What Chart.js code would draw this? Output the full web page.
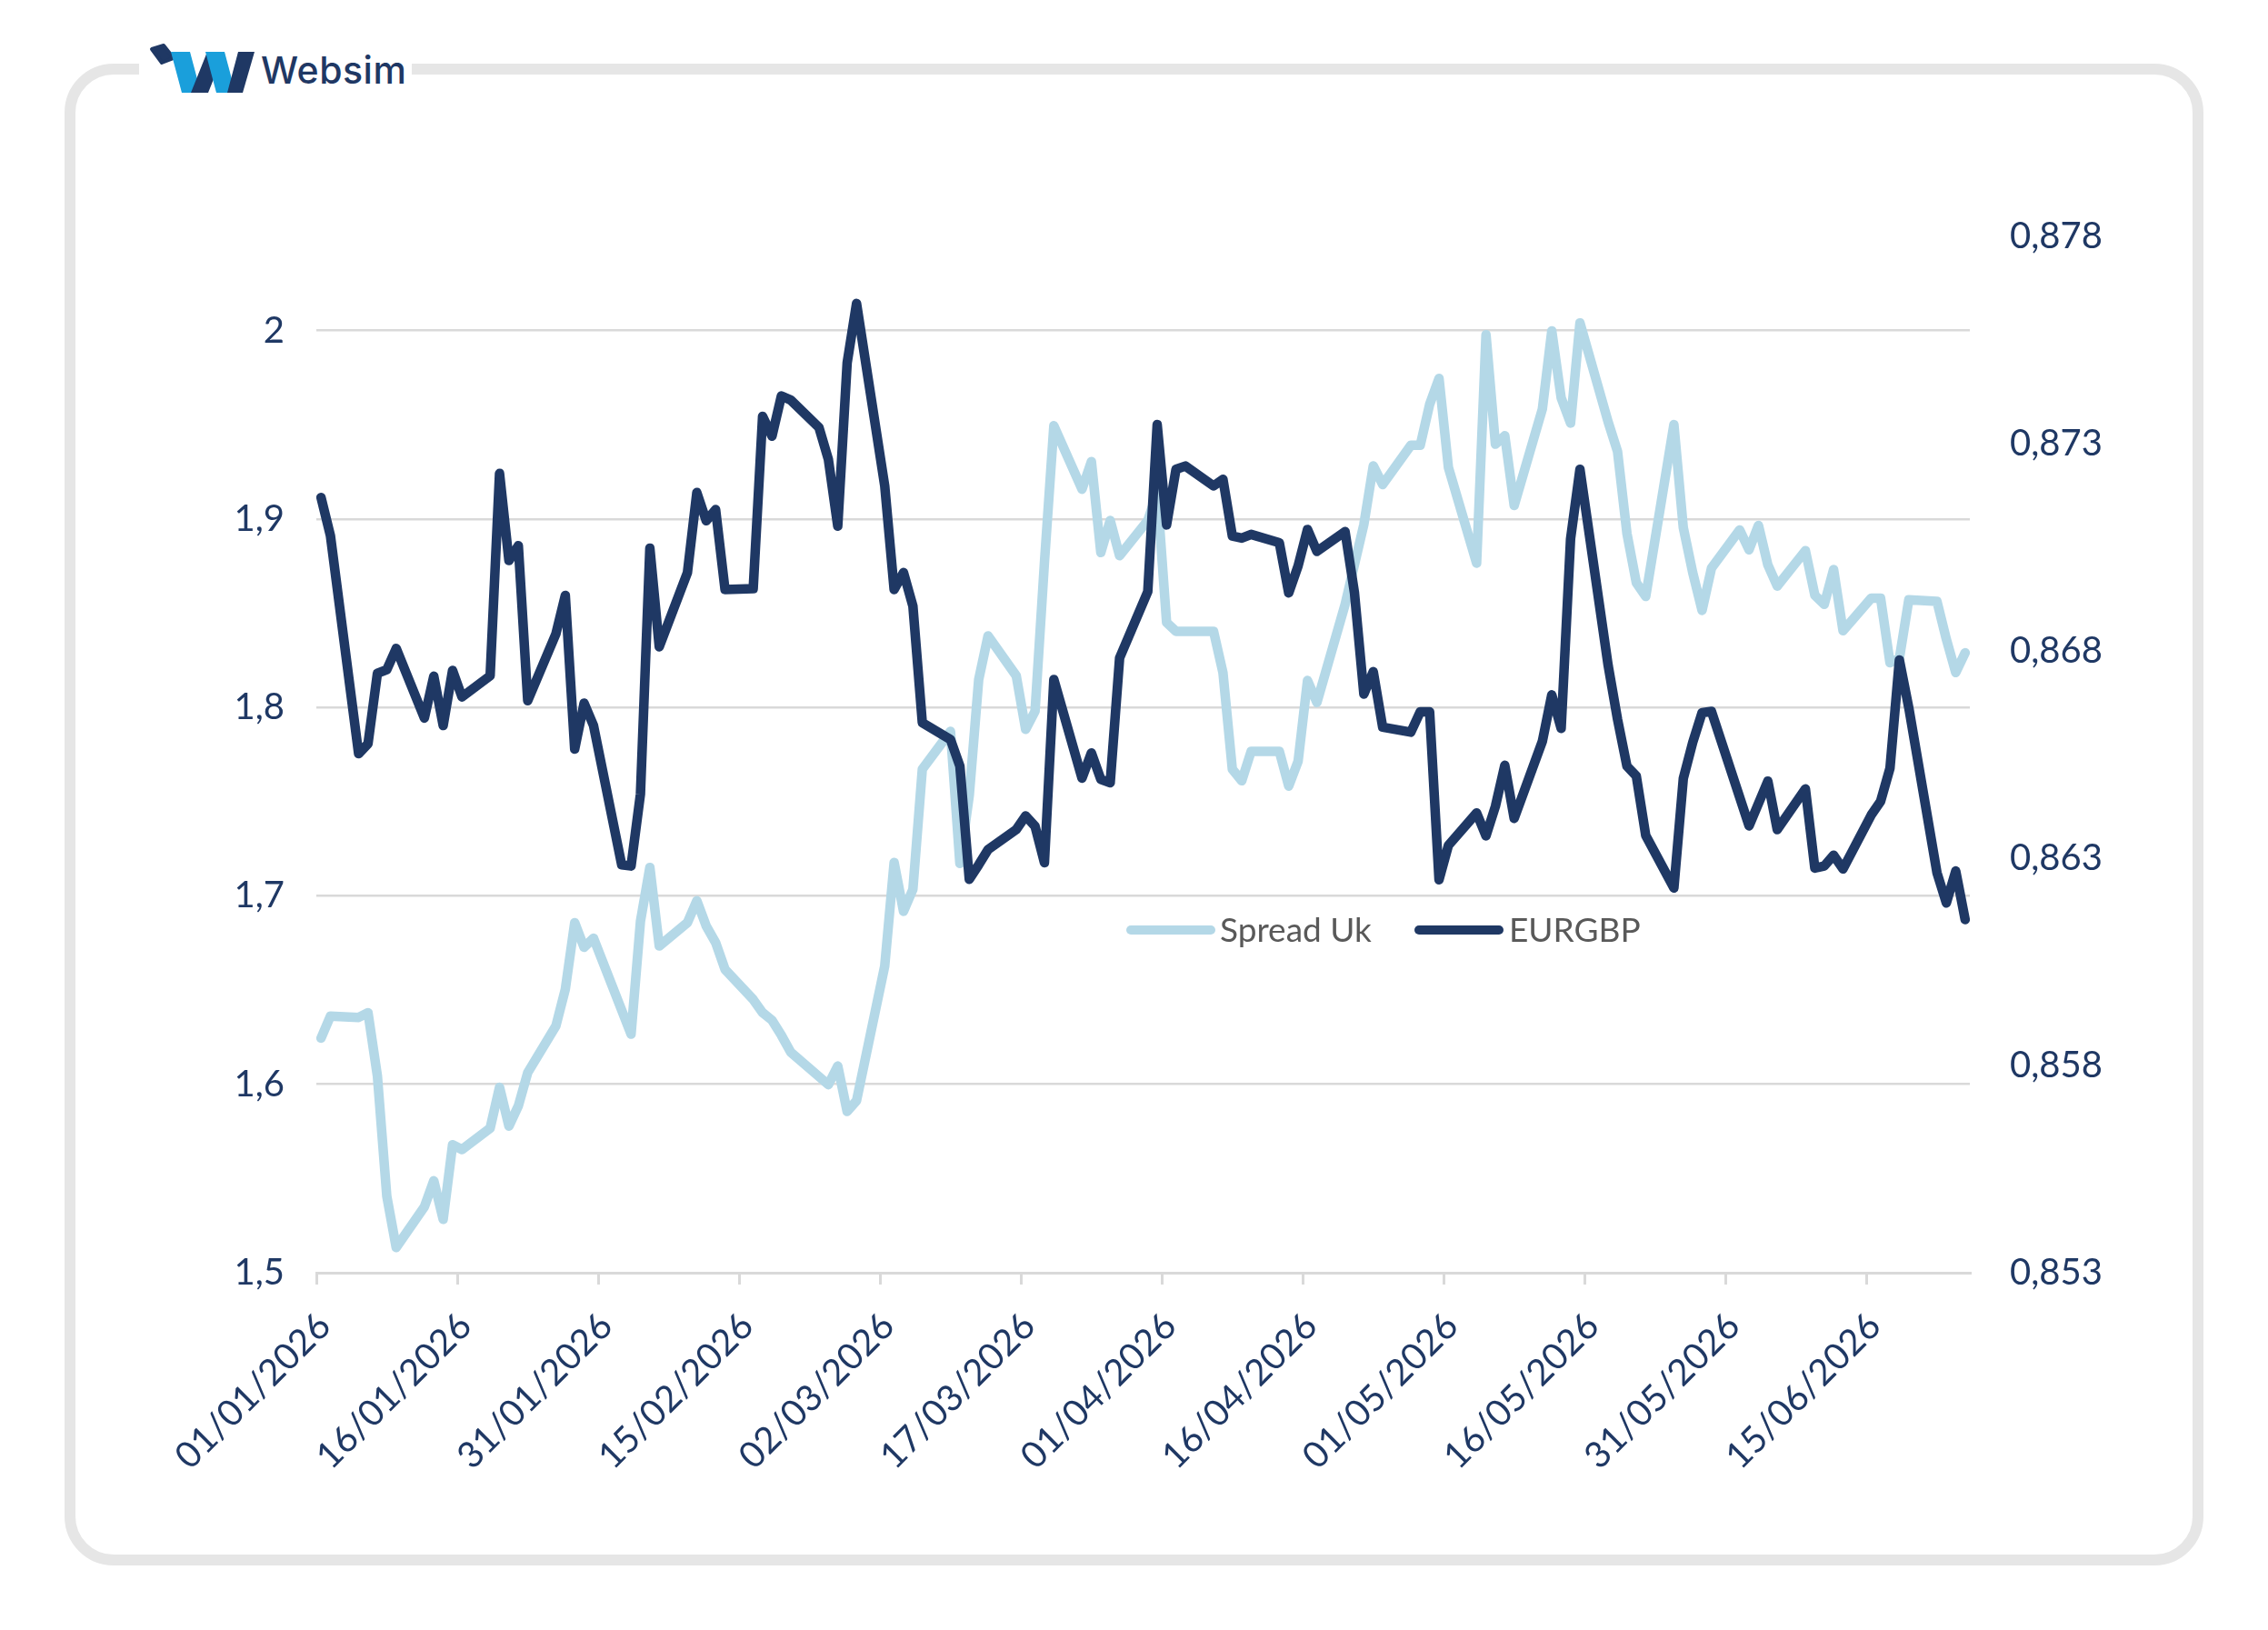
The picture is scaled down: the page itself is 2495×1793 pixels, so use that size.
<!DOCTYPE html>
<html>
<head>
<meta charset="utf-8">
<script src="https://cdn.jsdelivr.net/npm/chart.js@4.4.1/dist/chart.umd.min.js"></script>
<style>
  html, body { margin:0; padding:0; background:#ffffff; }
  body { width:2495px; height:1793px; position:relative; overflow:hidden; }
  #frame { position:absolute; left:0; top:0; }
  #chart { position:absolute; left:0; top:0; }
  .brand { position:absolute; left:287px; top:52px; font-family:Inter, "Noto Sans", sans-serif; font-weight:500; font-size:41px; color:#1F3864; line-height:50px; letter-spacing:0.5px; }
  .lg-line { position:absolute; height:10px; border-radius:5px; top:1018px; width:98px; }
  .lg-text { position:absolute; top:1000px; height:44px; line-height:44px; font-family:Lato, "Open Sans", sans-serif; font-size:37px; color:#595959; white-space:nowrap; }
</style>
</head>
<body>
<svg id="frame" width="2495" height="1793" xmlns="http://www.w3.org/2000/svg">
  <rect x="77" y="76" width="2341" height="1640" rx="48" ry="48" fill="none" stroke="#E6E6E6" stroke-width="12"/>
  <rect x="153" y="58" width="300" height="38" fill="#ffffff"/>
  <polygon points="167,54 180,50 191,64 178,69" fill="#1F3864" stroke="#1F3864" stroke-width="4" stroke-linejoin="round"/>
  <polygon points="188,57 209,57 221,102 200,102" fill="#1A9FDB"/>
  <polygon points="210,102 229,102 247,57 228,57" fill="#1F3864"/>
  <polygon points="226,57 247,57 259,102 238,102" fill="#1A9FDB"/>
  <polygon points="250,102 267,102 280,57 262,57" fill="#1F3864"/>
</svg>
<div class="brand">Websim</div>
<canvas id="chart" width="2495" height="1793"></canvas>
<div class="lg-line" style="left:1239px;background:#B4D8E7;"></div>
<div class="lg-text" style="left:1342px;">Spread Uk</div>
<div class="lg-line" style="left:1556px;background:#1F3864;"></div>
<div class="lg-text" style="left:1660px;">EURGBP</div>
<script>
const seriesNames = ['Spread Uk', 'EURGBP'];

const spreadDates = ['01/01/2026','02/01/2026','05/01/2026','06/01/2026','07/01/2026','08/01/2026','09/01/2026',
'12/01/2026','13/01/2026','14/01/2026','15/01/2026','16/01/2026','19/01/2026','20/01/2026','21/01/2026','22/01/2026','23/01/2026',
'26/01/2026','27/01/2026','28/01/2026','29/01/2026','30/01/2026','03/02/2026','04/02/2026','05/02/2026','06/02/2026',
'09/02/2026','10/02/2026','11/02/2026','12/02/2026','13/02/2026','16/02/2026','17/02/2026','18/02/2026','19/02/2026','20/02/2026',
'24/02/2026','25/02/2026','26/02/2026','27/02/2026','02/03/2026','03/03/2026','04/03/2026','05/03/2026','06/03/2026',
'09/03/2026','10/03/2026','11/03/2026','12/03/2026','13/03/2026','16/03/2026','17/03/2026','18/03/2026','19/03/2026','20/03/2026',
'23/03/2026','24/03/2026','25/03/2026','26/03/2026','27/03/2026','30/03/2026','31/03/2026','01/04/2026','02/04/2026',
'06/04/2026','07/04/2026','08/04/2026','09/04/2026','10/04/2026','13/04/2026','14/04/2026','15/04/2026','16/04/2026','17/04/2026',
'20/04/2026','22/04/2026','23/04/2026','24/04/2026','27/04/2026','28/04/2026','29/04/2026','30/04/2026','01/05/2026',
'04/05/2026','05/05/2026','06/05/2026','07/05/2026','08/05/2026','11/05/2026','12/05/2026','13/05/2026','14/05/2026','15/05/2026',
'18/05/2026','19/05/2026','20/05/2026','21/05/2026','22/05/2026','25/05/2026','26/05/2026','27/05/2026','28/05/2026','29/05/2026',
'01/06/2026','02/06/2026','03/06/2026','04/06/2026','05/06/2026','08/06/2026','09/06/2026','10/06/2026','11/06/2026','12/06/2026',
'15/06/2026','16/06/2026','17/06/2026','18/06/2026','19/06/2026','22/06/2026','23/06/2026','24/06/2026','25/06/2026'];

const spreadValues = [1.6245,1.6362,1.6355,1.638,1.6044,1.5406,1.5134,
1.535,1.5488,1.5283,1.5679,1.5654,1.5767,1.5984,1.5778,1.5885,1.6062,
1.631,1.6504,1.6858,1.6727,1.6776,1.6266,1.6865,1.7151,1.6734,
1.6858,1.6974,1.684,1.6752,1.661,1.645,1.638,1.634,1.626,1.617,
1.5998,1.6097,1.5856,1.5913,1.6628,1.7177,1.6918,1.7035,1.7672,
1.7873,1.7172,1.7534,1.8147,1.838,1.8168,1.7884,1.798,1.8769,1.9495,
1.9158,1.9305,1.8822,1.8992,1.8805,1.8992,1.9141,1.8451,1.8404,
1.8404,1.8185,1.7672,1.7611,1.7767,1.7767,1.7583,1.7714,1.8143,1.8026,
1.8546,1.8971,1.9282,1.9183,1.9391,1.9391,1.9608,1.9746,1.9273,
1.8766,1.9978,1.9397,1.9442,1.9072,1.9584,1.9998,1.9643,1.9509,2.0041,
1.9515,1.9358,1.8924,1.8662,1.8589,1.9501,1.8954,1.8716,1.8515,1.874,
1.8942,1.8837,1.8966,1.8756,1.8644,1.8832,1.8596,1.8547,1.8732,1.8407,
1.858,1.858,1.8237,1.826,1.8571,1.8563,1.8362,1.8185,1.829];

const eurgbpDates = ['01/01/2026','02/01/2026','05/01/2026','06/01/2026','07/01/2026','08/01/2026','09/01/2026',
'12/01/2026','13/01/2026','14/01/2026','15/01/2026','16/01/2026','19/01/2026','20/01/2026','21/01/2026','22/01/2026','23/01/2026',
'26/01/2026','27/01/2026','28/01/2026','29/01/2026','30/01/2026','02/02/2026','03/02/2026','04/02/2026','05/02/2026','06/02/2026',
'09/02/2026','10/02/2026','11/02/2026','12/02/2026','13/02/2026','16/02/2026','17/02/2026','18/02/2026','19/02/2026','20/02/2026',
'23/02/2026','24/02/2026','25/02/2026','26/02/2026','27/02/2026','02/03/2026','03/03/2026','04/03/2026','05/03/2026','06/03/2026',
'09/03/2026','10/03/2026','11/03/2026','12/03/2026','13/03/2026','16/03/2026','17/03/2026','18/03/2026','19/03/2026','20/03/2026',
'23/03/2026','24/03/2026','25/03/2026','26/03/2026','27/03/2026','30/03/2026','31/03/2026','01/04/2026','02/04/2026','03/04/2026',
'06/04/2026','07/04/2026','08/04/2026','09/04/2026','10/04/2026','13/04/2026','14/04/2026','15/04/2026','16/04/2026','17/04/2026',
'20/04/2026','21/04/2026','22/04/2026','23/04/2026','24/04/2026','27/04/2026','28/04/2026','29/04/2026','30/04/2026','01/05/2026',
'04/05/2026','05/05/2026','06/05/2026','07/05/2026','08/05/2026','11/05/2026','12/05/2026','13/05/2026','14/05/2026','15/05/2026',
'18/05/2026','19/05/2026','20/05/2026','21/05/2026','22/05/2026','25/05/2026','26/05/2026','27/05/2026','28/05/2026','29/05/2026',
'02/06/2026','04/06/2026','05/06/2026','08/06/2026','09/06/2026','10/06/2026','11/06/2026','12/06/2026',
'15/06/2026','16/06/2026','17/06/2026','18/06/2026','19/06/2026','22/06/2026','23/06/2026','24/06/2026','25/06/2026'];

const eurgbpValues = [0.8717,0.87078,0.86552,0.86576,0.86746,0.86755,0.86806,
0.86638,0.86739,0.8662,0.86753,0.86689,0.8674,0.87228,0.87018,0.87054,0.8668,
0.86841,0.86934,0.86563,0.86674,0.8662,0.86284,0.86281,0.86455,0.87048,0.8681,
0.86989,0.87182,0.87114,0.87141,0.86948,0.8695,0.87366,0.87318,0.87415,0.87405,
0.87339,0.87262,0.87101,0.87495,0.87638,0.87198,0.86948,0.86989,0.86908,0.86627,
0.86586,0.86522,0.86249,0.86284,0.86321,0.86369,0.86402,0.86377,0.86289,0.86731,
0.86493,0.86554,0.8649,0.86482,0.86783,0.86943,0.87346,0.87104,0.87238,0.87246,
0.87198,0.87214,0.87077,0.87072,0.87081,0.87061,0.8694,0.87005,0.87093,0.8704,
0.87088,0.8694,0.86696,0.8675,0.86616,0.86604,0.86653,0.86653,0.86248,0.86331,
0.86409,0.86354,0.86425,0.86524,0.86396,0.86582,0.86694,0.86613,0.8707,0.87238,
0.86765,0.86635,0.86522,0.86498,0.86355,0.86228,0.86492,0.86579,0.86651,0.86654,
0.86378,0.86486,0.86369,0.86467,0.86276,0.86281,0.86307,0.86274,
0.86404,0.86437,0.86517,0.86778,0.86663,0.86265,0.86192,0.86269,0.86152];

const xTickLabels = ['01/01/2026','16/01/2026','31/01/2026','15/02/2026','02/03/2026','17/03/2026',
'01/04/2026','16/04/2026','01/05/2026','16/05/2026','31/05/2026','15/06/2026'];
const leftTickValues = [1.5, 1.6, 1.7, 1.8, 1.9, 2.0];
const leftTickLabels = ['1,5', '1,6', '1,7', '1,8', '1,9', '2'];
const leftAxisRange = [1.5, 2.05];
const rightTickValues = [0.853, 0.858, 0.863, 0.868, 0.873, 0.878];
const rightTickLabels = ['0,853', '0,858', '0,863', '0,868', '0,873', '0,878'];
const rightAxisRange = [0.853, 0.878];
const axisStart = '01/01/2026';
const axisEnd = '25/06/2026';

function dayIndex(s) {
  const p = s.split('/').map(Number);
  const b = axisStart.split('/').map(Number);
  return Math.round((Date.UTC(p[2], p[1] - 1, p[0]) - Date.UTC(b[2], b[1] - 1, b[0])) / 86400000);
}

const NAVY = '#1F3864';
const LIGHT = '#B4D8E7';
const GRID = '#D9D9D9';

const spreadData = spreadDates.map((d, i) => ({ x: dayIndex(d), y: spreadValues[i] }));
const eurgbpData = eurgbpDates.map((d, i) => ({ x: dayIndex(d), y: eurgbpValues[i] }));
const xTickPositions = xTickLabels.map(l => dayIndex(l) - 0.5);

const tickFont = { family: 'Lato', size: 40 };

new Chart(document.getElementById('chart'), {
  type: 'line',
  data: {
    datasets: [
      { label: seriesNames[0], data: spreadData, yAxisID: 'y', borderColor: LIGHT, backgroundColor: LIGHT,
        borderWidth: 10.5, pointRadius: 0, tension: 0, borderJoinStyle: 'round', borderCapStyle: 'round', order: 1 },
      { label: seriesNames[1], data: eurgbpData, yAxisID: 'y1', borderColor: NAVY, backgroundColor: NAVY,
        borderWidth: 10.5, pointRadius: 0, tension: 0, borderJoinStyle: 'round', borderCapStyle: 'round', order: 0 }
    ]
  },
  options: {
    responsive: false,
    animation: false,
    devicePixelRatio: 1,
    layout: { padding: { top: 260, left: 0, right: 0, bottom: 0 } },
    plugins: { legend: { display: false }, tooltip: { enabled: false } },
    scales: {
      x: {
        type: 'linear',
        position: 'bottom',
        min: dayIndex(axisStart) - 0.5,
        max: dayIndex(axisEnd) + 0.5,
        afterBuildTicks: (s) => { s.ticks = xTickPositions.map(v => ({ value: v })); },
        afterFit: (s) => { s.height = 393; },
        ticks: {
          autoSkip: false, maxRotation: 45, minRotation: 45, padding: 22, labelOffset: 9,
          font: tickFont, color: NAVY,
          callback: (v, i) => xTickLabels[i]
        },
        grid: { drawOnChartArea: false, drawTicks: true, tickLength: 13, color: GRID, tickColor: GRID, lineWidth: 3 },
        border: { display: true, color: GRID, width: 3 }
      },
      y: {
        type: 'linear',
        position: 'left',
        min: leftAxisRange[0],
        max: leftAxisRange[1],
        afterBuildTicks: (s) => { s.ticks = leftTickValues.map(v => ({ value: v })); },
        afterFit: (s) => { s.width = 348; },
        ticks: { padding: 35, font: tickFont, color: NAVY, callback: (v, i) => leftTickLabels[i] },
        grid: { color: GRID, lineWidth: 2.5, drawTicks: false },
        border: { display: false }
      },
      y1: {
        type: 'linear',
        position: 'right',
        min: rightAxisRange[0],
        max: rightAxisRange[1],
        afterBuildTicks: (s) => { s.ticks = rightTickValues.map(v => ({ value: v })); },
        afterFit: (s) => { s.width = 328; },
        ticks: { padding: 44, font: tickFont, color: NAVY, callback: (v, i) => rightTickLabels[i] },
        grid: { display: false, drawTicks: false },
        border: { display: false }
      }
    }
  }
});
</script>
</body>
</html>
